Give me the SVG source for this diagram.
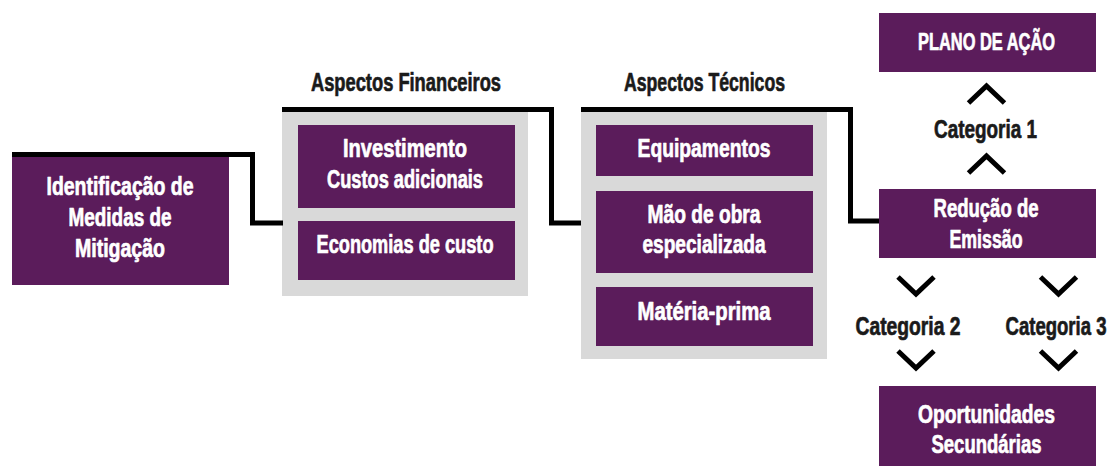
<svg xmlns="http://www.w3.org/2000/svg" width="1113" height="466" viewBox="0 0 1113 466">
<defs>
<style>
.box{fill:#5b1c5b}
.panel{fill:#d9d9d9}
.t{font-family:"Liberation Sans","DejaVu Sans",sans-serif;font-weight:bold;font-size:26px;text-anchor:middle;stroke-width:0.7px;stroke-linejoin:round}
.w{fill:#ffffff;stroke:#ffffff}
.k{fill:#1a1a1a;stroke:#1a1a1a}
.s24{font-size:24px}
.line{fill:none;stroke:#000;stroke-width:5;stroke-linejoin:miter;stroke-linecap:butt}
.chev{fill:none;stroke:#000;stroke-width:5;stroke-linejoin:miter;stroke-linecap:butt}
</style>
<path id="up" d="M-18,8 L0,-9 L18,8"/>
<path id="down" d="M-18,-8 L0,9 L18,-8"/>
</defs>
<rect width="1113" height="466" fill="#ffffff"/>

<g id="node-identificacao">
<rect class="box" x="12" y="157" width="217" height="128"/>
<text class="t w" x="120" y="195" textLength="147" lengthAdjust="spacingAndGlyphs">Identificação de</text>
<text class="t w" x="120" y="226" textLength="103" lengthAdjust="spacingAndGlyphs">Medidas de</text>
<text class="t w" x="120" y="257" textLength="90" lengthAdjust="spacingAndGlyphs">Mitigação</text>
</g>

<g id="node-financeiros">
<text class="t k" x="406" y="91" textLength="190" lengthAdjust="spacingAndGlyphs">Aspectos Financeiros</text>
<rect class="panel" x="282" y="112" width="246" height="184"/>
<g id="node-investimento">
<rect class="box" x="298" y="125" width="217" height="83"/>
<text class="t w" x="405" y="157" textLength="124" lengthAdjust="spacingAndGlyphs">Investimento</text>
<text class="t w" x="405" y="188" textLength="156" lengthAdjust="spacingAndGlyphs">Custos adicionais</text>
</g>
<g id="node-economias">
<rect class="box" x="298" y="221" width="217" height="59"/>
<text class="t w" x="405" y="253" textLength="177" lengthAdjust="spacingAndGlyphs">Economias de custo</text>
</g>
</g>

<g id="node-tecnicos">
<text class="t k" x="704.5" y="91" textLength="161" lengthAdjust="spacingAndGlyphs">Aspectos Técnicos</text>
<rect class="panel" x="581" y="112" width="246" height="247"/>
<g id="node-equipamentos">
<rect class="box" x="596" y="125" width="217" height="51"/>
<text class="t w" x="704" y="157" textLength="133" lengthAdjust="spacingAndGlyphs">Equipamentos</text>
</g>
<g id="node-maodeobra">
<rect class="box" x="596" y="191" width="217" height="82"/>
<text class="t w" x="704" y="223" textLength="113" lengthAdjust="spacingAndGlyphs">Mão de obra</text>
<text class="t w" x="704" y="253" textLength="123" lengthAdjust="spacingAndGlyphs">especializada</text>
</g>
<g id="node-materiaprima">
<rect class="box" x="596" y="287" width="217" height="59"/>
<text class="t w" x="704" y="320" textLength="133" lengthAdjust="spacingAndGlyphs">Matéria-prima</text>
</g>
</g>

<g id="node-plano">
<rect class="box" x="879" y="13" width="217" height="59"/>
<text class="t w s24" transform="translate(986.5,50) scale(0.684,1)" x="0" y="0">PLANO DE AÇÃO</text>
</g>

<g id="node-reducao">
<rect class="box" x="879" y="189" width="217" height="69"/>
<text class="t w" x="986" y="217" textLength="105" lengthAdjust="spacingAndGlyphs">Redução de</text>
<text class="t w" x="986" y="248" textLength="73" lengthAdjust="spacingAndGlyphs">Emissão</text>
</g>

<g id="node-oportunidades">
<rect class="box" x="879" y="386" width="217" height="80"/>
<text class="t w" x="986.5" y="423" textLength="137" lengthAdjust="spacingAndGlyphs">Oportunidades</text>
<text class="t w" x="986.5" y="453" textLength="110" lengthAdjust="spacingAndGlyphs">Secundárias</text>
</g>

<g id="connectors">
<polyline class="line" points="12,154.5 252.5,154.5 252.5,223 283,223"/>
<polyline class="line" points="282,109.5 551.5,109.5 551.5,223 581,223"/>
<polyline class="line" points="581,109.5 850.5,109.5 850.5,221 879,221"/>
<use href="#up" class="chev" transform="translate(986.5,95)"/>
<use href="#up" class="chev" transform="translate(986.5,165)"/>
<use href="#down" class="chev" transform="translate(916,285)"/>
<use href="#down" class="chev" transform="translate(1058.5,285)"/>
<use href="#down" class="chev" transform="translate(916,359)"/>
<use href="#down" class="chev" transform="translate(1058.5,359)"/>
<text class="t k" x="985.5" y="138" textLength="103" lengthAdjust="spacingAndGlyphs">Categoria 1</text>
<text class="t k" x="908" y="335" textLength="105" lengthAdjust="spacingAndGlyphs">Categoria 2</text>
<text class="t k" transform="translate(1056,335) scale(0.713,1)" x="0" y="0">Categoria 3</text>
</g>
</svg>
